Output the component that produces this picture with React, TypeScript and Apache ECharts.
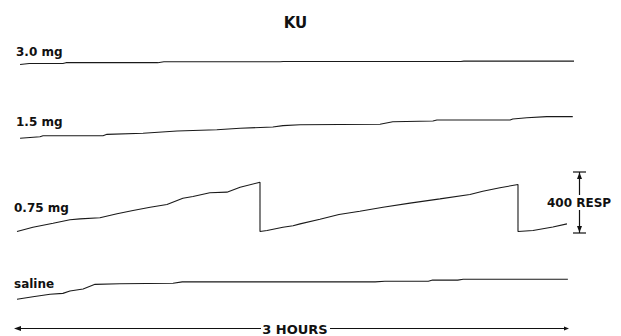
import React, { useEffect, useRef } from "react";
import * as echarts from "echarts";

// Session time (minutes) and cumulative responses for each dose
const trace30Min = [1, 4, 15, 16, 46, 48, 86, 87, 145, 146, 182];
const trace30Resp = [0, 7, 7, 12, 12, 18, 18, 20, 20, 22, 22];

const trace15Min = [1, 7.5, 8.5, 28.1, 29.4, 41.2, 52.3, 65.3, 72.9, 83.6, 86.9, 92.5, 118.6, 122.8, 135.9, 137.2, 161.1, 162, 166.6, 173.1, 181.6];
const trace15Resp = [0, 10, 17, 17, 26, 33, 48, 56, 66, 74, 83, 89, 92, 109, 113, 120, 120, 127, 135, 142, 142];

const trace075Min = [0, 5.2, 11.8, 17.3, 20.6, 27.1, 32.7, 37.9, 43.5, 49, 54.2, 57.5, 63, 68.6, 72.9, 79.4, 79.4, 81.7, 86.9, 90.2, 92.5, 99, 105.2, 112, 119.6, 128.4, 138.2, 148, 152.2, 157.8, 163.7, 163.7, 168.6, 175.1, 179.7];
const trace075Resp = [0, 28, 54, 77, 83, 90, 116, 138, 159, 177, 218, 230, 254, 258, 290, 323, 0, 7, 28, 38, 50, 80, 112, 133, 159, 186, 214, 243, 264, 287, 308, 0, 7, 29, 50];

const salineMin = [0, 5.2, 10.8, 15, 17.3, 21.6, 25.5, 33.6, 51, 54, 117, 120.2, 134.4, 135.8, 144, 145.8, 180];
const salineResp = [0, 17, 33, 39, 54, 68, 98, 102, 105, 114, 114, 118, 118, 126, 126, 131, 131];

const traceLabels = ["3.0 mg", "1.5 mg", "0.75 mg", "saline"];
const title = "KU";
const scaleLabel = "400 RESP";
const timeLabel = "3 HOURS";
const sessionMax = 182;
const respMax = 400;

const FONT = "'DejaVu Sans', sans-serif";

export default function App() {
  const ref = useRef<HTMLDivElement>(null);
  useEffect(() => {
    if (!ref.current) return;
    const chart = echarts.init(ref.current, null, { renderer: "svg" });
    const traces = [
      { min: trace30Min, resp: trace30Resp, base: 64.5 },
      { min: trace15Min, resp: trace15Resp, base: 138.3 },
      { min: trace075Min, resp: trace075Resp, base: 231.5 },
      { min: salineMin, resp: salineResp, base: 299.3 },
    ];
    const H = 61; // 400 responses = 61 px
    const grids = traces.map((t) => ({ left: 17, right: 621 - 574, top: t.base - H, height: H }));
    const xAxes = traces.map((_, i) => ({ type: "value", gridIndex: i, min: 0, max: sessionMax, show: false }));
    const yAxes = traces.map((_, i) => ({ type: "value", gridIndex: i, min: 0, max: respMax, show: false }));
    const series = traces.map((t, i) => ({
      type: "line",
      name: traceLabels[i],
      xAxisIndex: i,
      yAxisIndex: i,
      data: t.min.map((m, j) => [m, t.resp[j]]),
      showSymbol: false,
      symbol: "none",
      clip: false,
      silent: true,
      lineStyle: { color: "#1a1a1a", width: 1.1 },
    }));
    const labelPos = [
      [16, 51.5],
      [16, 121.5],
      [14, 208],
      [14, 284],
    ];
    const txt = (x: number, y: number, text: string, size: number, align = "left") => ({
      type: "text",
      x,
      y,
      style: { text, fontFamily: FONT, fontWeight: "bold", fontSize: size, fill: "#111", align, verticalAlign: "middle" },
    });
    const ln = (x1: number, y1: number, x2: number, y2: number, w = 1.2) => ({
      type: "line",
      shape: { x1, y1, x2, y2 },
      style: { stroke: "#111", lineWidth: w },
    });
    const tri = (pts: number[][]) => ({ type: "polygon", shape: { points: pts }, style: { fill: "#111" } });
    const bx = 579.5;
    const graphic = [
      txt(295.5, 22.5, title, 15, "center"),
      ...traceLabels.map((l, i) => txt(labelPos[i][0], labelPos[i][1], l, 12)),
      // scale bar
      ln(573, 172, 586, 172),
      ln(573, 233, 586, 233),
      ln(bx, 172, bx, 195),
      ln(bx, 210, bx, 233),
      tri([[bx, 172.5], [bx - 2.5, 179], [bx + 2.5, 179]]),
      tri([[bx, 232.5], [bx - 2.5, 226], [bx + 2.5, 226]]),
      txt(547, 202.5, scaleLabel, 12),
      // time arrow
      ln(18, 328.5, 261, 328.5),
      ln(330, 328.5, 567, 328.5),
      tri([[14, 328.5], [21, 326], [21, 331]]),
      tri([[569, 328.5], [564, 326.5], [564, 330.5]]),
      txt(295, 329.5, timeLabel, 13, "center"),
    ];
    chart.setOption({
      animation: false,
      backgroundColor: "#fff",
      grid: grids,
      xAxis: xAxes,
      yAxis: yAxes,
      series,
      graphic,
    });
    return () => chart.dispose();
  }, []);
  return <div ref={ref} style={{ position: "absolute", left: 0, top: 0, width: 621, height: 336 }} />;
}
